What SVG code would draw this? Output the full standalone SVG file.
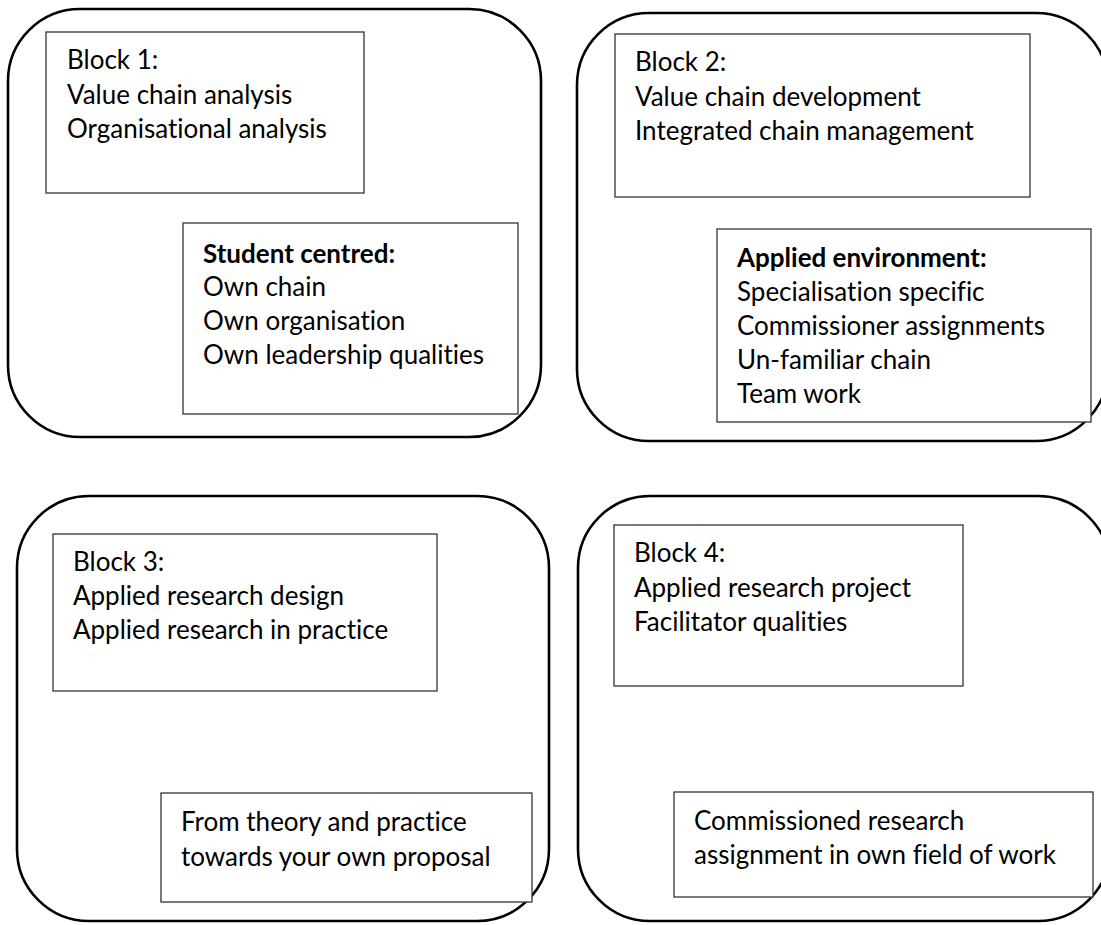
<svg xmlns="http://www.w3.org/2000/svg" width="1101" height="925" viewBox="0 0 1101 925">
  <style>
    .frame { fill: none; stroke: #000; stroke-width: 2.6; }
    .box { fill: #fff; stroke: #333; stroke-width: 1.3; }
    text { font-family: Lato, "Open Sans", "Liberation Sans", sans-serif; font-size: 26px; fill: #000; font-variant-ligatures: none; }
    .bold { font-weight: bold; }
  </style>
  <rect width="1101" height="925" fill="#fff"/>

  <!-- Block 1: analysis -->
  <g id="block1">
    <rect class="frame" x="8" y="9" width="533" height="428" rx="72" ry="72"/>
    <g id="block1-topics">
      <rect class="box" x="46" y="32" width="318" height="161"/>
      <text x="67" y="69">Block 1:</text>
      <text x="67" y="104">Value chain analysis</text>
      <text x="67" y="138">Organisational analysis</text>
    </g>
    <g id="block1-focus">
      <rect class="box" x="183" y="223" width="335" height="191"/>
      <text class="bold" x="203" y="263">Student centred:</text>
      <text x="203" y="296">Own chain</text>
      <text x="203" y="330">Own organisation</text>
      <text x="203" y="364">Own leadership qualities</text>
    </g>
  </g>

  <!-- Block 2: development -->
  <g id="block2">
    <rect class="frame" x="577" y="13" width="531" height="428" rx="72" ry="72"/>
    <g id="block2-topics">
      <rect class="box" x="615" y="34" width="415" height="163"/>
      <text x="635" y="71">Block 2:</text>
      <text x="635" y="106">Value chain development</text>
      <text x="635" y="140">Integrated chain management</text>
    </g>
    <g id="block2-focus">
      <rect class="box" x="717" y="229" width="374" height="193"/>
      <text class="bold" x="737" y="267">Applied environment:</text>
      <text x="737" y="301">Specialisation specific</text>
      <text x="737" y="335">Commissioner assignments</text>
      <text x="737" y="369">Un-familiar chain</text>
      <text x="737" y="403">Team work</text>
    </g>
  </g>

  <!-- Block 3: research design -->
  <g id="block3">
    <rect class="frame" x="17" y="496" width="532" height="425" rx="72" ry="72"/>
    <g id="block3-topics">
      <rect class="box" x="53" y="534" width="384" height="157"/>
      <text x="73" y="571">Block 3:</text>
      <text x="73" y="605">Applied research design</text>
      <text x="73" y="639">Applied research in practice</text>
    </g>
    <g id="block3-focus">
      <rect class="box" x="161" y="793" width="371" height="109"/>
      <text x="181" y="831">From theory and practice</text>
      <text x="181" y="866">towards your own proposal</text>
    </g>
  </g>

  <!-- Block 4: research project -->
  <g id="block4">
    <rect class="frame" x="578" y="496" width="532" height="425" rx="72" ry="72"/>
    <g id="block4-topics">
      <rect class="box" x="614" y="525" width="349" height="161"/>
      <text x="634" y="562">Block 4:</text>
      <text x="634" y="597">Applied research project</text>
      <text x="634" y="631">Facilitator qualities</text>
    </g>
    <g id="block4-focus">
      <rect class="box" x="674" y="792" width="419" height="105"/>
      <text x="694" y="830">Commissioned research</text>
      <text x="694" y="864">assignment in own field of work</text>
    </g>
  </g>
</svg>
